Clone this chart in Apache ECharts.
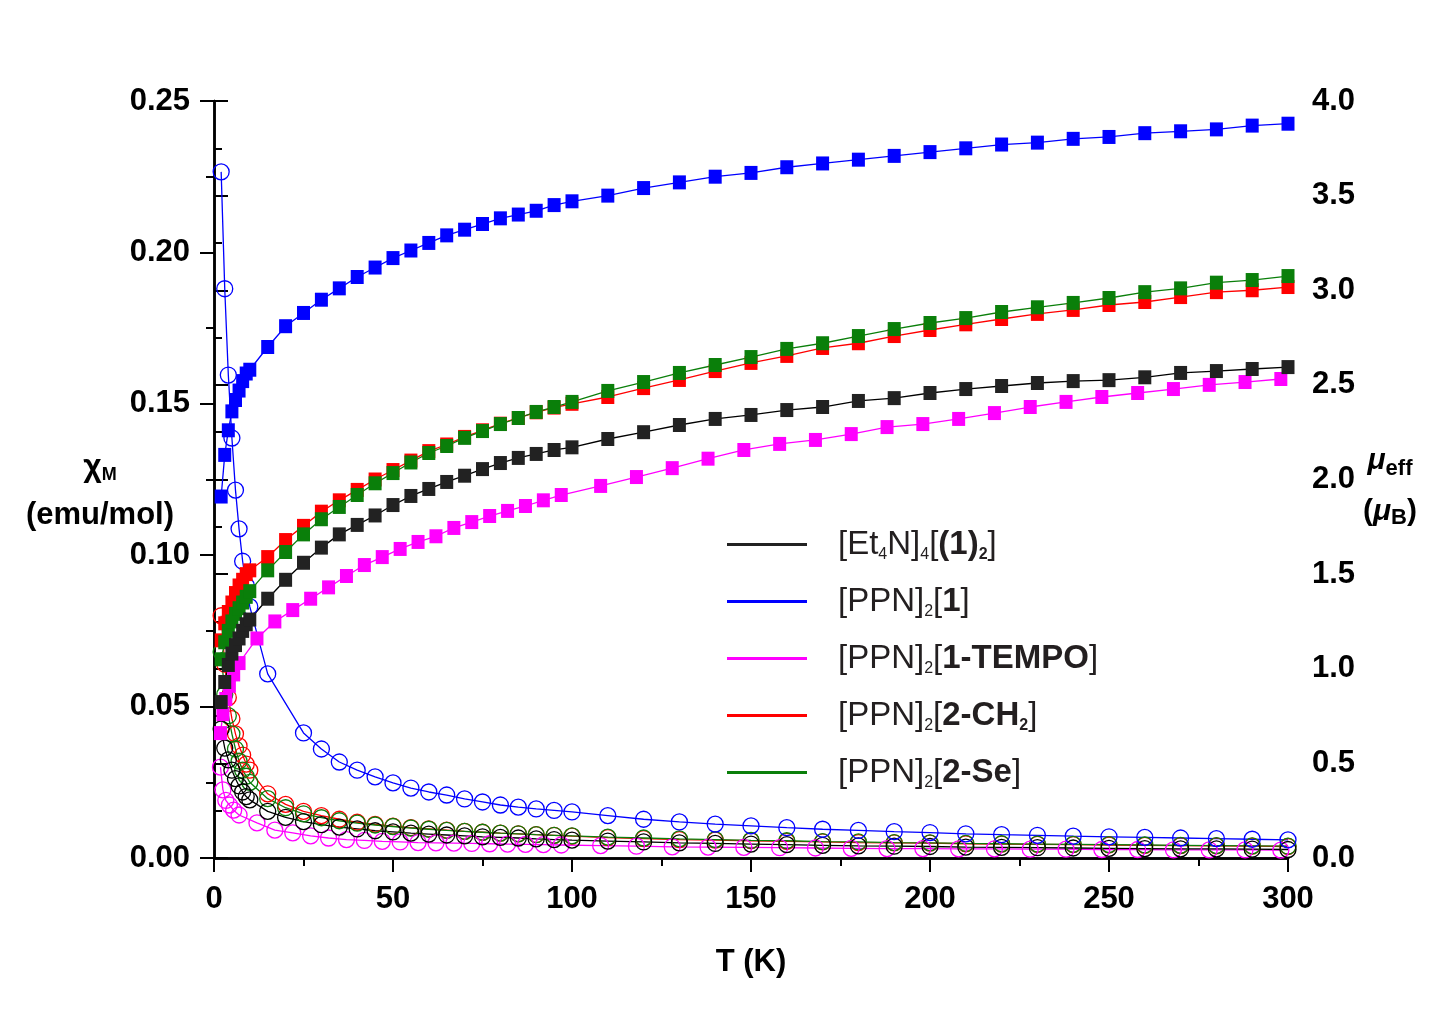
<!DOCTYPE html>
<html><head><meta charset="utf-8">
<script src="https://cdn.jsdelivr.net/npm/echarts@6/dist/echarts.min.js"></script>
<style>html,body{margin:0;padding:0;background:#fff}#c{width:1432px;height:1011px}</style>
</head><body><div id="c"></div>
<script>
// Temperatures (K)
const T = [2,3,4,5,6,7,8,9,10,15,20,25,30,35,40,45,50,55,60,65,70,75,80,85,90,95,100,110,120,130,140,150,160,170,180,190,200,210,220,230,240,250,260,270,280,290,300];
const Tm = [1.8,2.5,3.3,4.3,5.5,7,12,17,22,27,32,37,42,47,52,57,62,67,72,77,82,87,92,97,108,118,128,138,148,158,168,178,188,198,208,218,228,238,248,258,268,278,288,298];

// mu_eff (right axis)
const muEt = [0.824,0.93,1.02,1.08,1.125,1.16,1.20,1.235,1.26,1.37,1.47,1.56,1.64,1.71,1.76,1.81,1.865,1.913,1.95,1.987,2.02,2.055,2.087,2.114,2.135,2.156,2.17,2.214,2.25,2.288,2.32,2.341,2.367,2.383,2.415,2.43,2.457,2.478,2.494,2.51,2.52,2.525,2.54,2.563,2.573,2.584,2.594];
const muPPN1 = [1.91,2.13,2.26,2.36,2.42,2.47,2.52,2.56,2.58,2.70,2.81,2.88,2.95,3.01,3.07,3.12,3.17,3.21,3.25,3.29,3.32,3.35,3.38,3.40,3.42,3.45,3.47,3.50,3.54,3.57,3.60,3.62,3.65,3.67,3.69,3.71,3.73,3.75,3.77,3.78,3.80,3.81,3.83,3.84,3.85,3.87,3.88];
const muTEMPO = [0.66,0.76,0.84,0.91,0.97,1.03,1.16,1.25,1.31,1.37,1.43,1.49,1.548,1.59,1.633,1.67,1.70,1.744,1.775,1.807,1.834,1.86,1.89,1.918,1.966,2.013,2.06,2.11,2.156,2.188,2.209,2.24,2.277,2.293,2.32,2.351,2.383,2.41,2.436,2.457,2.478,2.50,2.515,2.531];
const muCH2 = [1.15,1.24,1.30,1.35,1.40,1.44,1.47,1.50,1.52,1.59,1.68,1.755,1.83,1.89,1.945,2.00,2.05,2.10,2.15,2.185,2.225,2.26,2.295,2.325,2.355,2.38,2.40,2.436,2.483,2.526,2.573,2.616,2.653,2.695,2.72,2.758,2.79,2.82,2.848,2.875,2.896,2.922,2.938,2.964,2.99,3.00,3.017];
const muSe = [1.05,1.14,1.20,1.25,1.29,1.32,1.35,1.38,1.41,1.52,1.617,1.71,1.79,1.855,1.918,1.98,2.034,2.09,2.14,2.177,2.22,2.256,2.293,2.325,2.357,2.383,2.41,2.468,2.515,2.563,2.605,2.647,2.69,2.72,2.758,2.795,2.827,2.853,2.885,2.91,2.933,2.959,2.99,3.01,3.04,3.054,3.075];

// chi_M (left axis)
const chiEt = [0.0426,0.0363,0.0324,0.0290,0.0262,0.0238,0.0218,0.0203,0.0192,0.0154,0.0134,0.0120,0.0110,0.0102,0.0096,0.0090,0.0086,0.0082,0.0079,0.0076,0.0073,0.0070,0.0068,0.0066,0.0063,0.0061,0.0059,0.0056,0.0053,0.0050,0.0048,0.0046,0.0044,0.0042,0.0040,0.0039,0.0038,0.0036,0.0035,0.0034,0.0033,0.0032,0.0031,0.0030,0.0030,0.0029,0.0028];
const chiPPN1 = [0.2266,0.188,0.1595,0.1387,0.1215,0.1087,0.098,0.090,0.083,0.0608,null,0.0413,0.036,0.0317,0.029,0.0268,0.0248,0.0231,0.0218,0.0208,0.0195,0.0185,0.0175,0.0168,0.0162,0.0157,0.0152,0.0140,0.0128,0.0119,0.0112,0.0106,0.0100,0.0095,0.0091,0.0087,0.0084,0.0080,0.0077,0.0075,0.0072,0.0070,0.0068,0.0066,0.0064,0.0062,0.0060];
const chiTEMPO = [0.030,0.0225,0.019,0.0175,0.0158,0.0142,0.0116,0.0092,0.0083,0.0073,0.0066,0.0061,0.0058,0.0055,0.0053,0.0051,0.0050,0.0049,0.0048,0.0047,0.0046,0.0045,0.0044,0.0043,0.0041,0.0039,0.0037,0.0036,0.0035,0.0034,0.0033,0.0032,0.0031,0.0031,0.0030,0.0030,0.0029,0.0029,0.0028,0.0028,0.0027,0.0027,0.0027,0.0026];
const chiCH2 = [0.080,0.064,0.053,0.046,0.041,0.037,0.034,0.031,0.029,0.0212,0.0177,0.0154,0.0140,0.0128,0.0118,0.0111,0.0105,0.0100,0.0096,0.0092,0.0088,0.0085,0.0082,0.0080,0.0077,0.0075,0.0072,0.0067,0.0064,0.0061,0.0059,0.0057,0.0055,0.0053,0.0051,0.0050,0.0049,0.0047,0.0046,0.0045,0.0044,0.0043,0.0042,0.0041,0.0040,0.0039,0.0038];
const chiSe = [0.068,0.054,0.047,0.041,0.036,0.032,0.029,0.027,0.025,0.0196,0.0166,0.0146,0.0133,0.0123,0.0115,0.0109,0.0104,0.0099,0.0095,0.0091,0.0088,0.0085,0.0082,0.0080,0.0077,0.0075,0.0073,0.0069,0.0066,0.0063,0.0061,0.0058,0.0057,0.0054,0.0053,0.0051,0.0050,0.0048,0.0047,0.0046,0.0045,0.0044,0.0043,0.0042,0.0041,0.0040,0.0039];

const colors = {Et4N:'#000000', PPN1:'#0000ff', TEMPO:'#ff00ff', CH2:'#ff0000', Se:'#0a7f0a'};
const legendText = {
  Et4N: '{n|[Et}{s|4}{n|N]}{s|4}{n|[}{b|(1)}{bs|2}{n|]}',
  PPN1: '{n|[PPN]}{s|2}{n|[}{b|1}{n|]}',
  TEMPO: '{n|[PPN]}{s|2}{n|[}{b|1-TEMPO}{n|]}',
  CH2: '{n|[PPN]}{s|2}{n|[}{b|2-CH}{bs|2}{n|]}',
  Se: '{n|[PPN]}{s|2}{n|[}{b|2-Se}{n|]}'
};
const muData = {Et4N:[T,muEt], PPN1:[T,muPPN1], TEMPO:[Tm,muTEMPO], CH2:[T,muCH2], Se:[T,muSe]};
const chiData = {Et4N:[T,chiEt], PPN1:[T,chiPPN1], TEMPO:[Tm,chiTEMPO], CH2:[T,chiCH2], Se:[T,chiSe]};
const drawOrder = ['CH2','Se','TEMPO','Et4N','PPN1'];

const FONT = 'Liberation Sans, Arial, Helvetica, sans-serif';
const pair = (xs, ys) => xs.map((x, i) => [x, ys[i] == null ? '-' : ys[i]]);

const series = [];
drawOrder.forEach(k => {
  const c = colors[k];
  series.push({
    name: k + '_chi', type: 'line', yAxisIndex: 0, xAxisIndex: 0,
    data: pair(chiData[k][0], chiData[k][1]), connectNulls: true,
    symbol: 'circle', symbolSize: 16,
    lineStyle: {color: c, width: 1.3},
    itemStyle: {color: 'rgba(255,255,255,0)', borderColor: c, borderWidth: 1.3},
    emphasis: {disabled: true}, animation: false, silent: true
  });
});
drawOrder.forEach(k => {
  const c = colors[k];
  series.push({
    name: k, type: 'line', yAxisIndex: 1, xAxisIndex: 0,
    data: pair(muData[k][0], muData[k][1]),
    symbol: 'rect', symbolSize: [13, 14],
    lineStyle: {color: c, width: 1.3},
    itemStyle: {color: k === 'Et4N' ? '#222222' : c, borderWidth: 0},
    emphasis: {disabled: true}, animation: false, silent: true
  });
});

const axisLine = {show: true, lineStyle: {color: '#000', width: 2.5}};
const tickLabel = {color: '#000', fontSize: 31, fontWeight: 'bold', fontFamily: FONT};

const option = {
  backgroundColor: '#fff',
  animation: false,
  grid: {left: 214, right: 144, top: 101, bottom: 153, containLabel: false},
  legend: {
    data: ['Et4N','PPN1','TEMPO','CH2','Se'],
    orient: 'vertical', left: 722, top: 523,
    icon: 'rect', itemWidth: 80, itemHeight: 3, itemGap: 22.5,
    selectedMode: false,
    formatter: name => legendText[name],
    textStyle: {
      color: '#231f20', fontFamily: FONT, padding: [0, 0, 0, 26],
      rich: {
        n: {fontSize: 33, lineHeight: 36, fontFamily: FONT, color: '#231f20'},
        b: {fontSize: 33, lineHeight: 36, fontWeight: 'bold', fontFamily: FONT, color: '#231f20'},
        s: {fontSize: 16, lineHeight: 22, verticalAlign: 'bottom', fontFamily: FONT, color: '#231f20'},
        bs: {fontSize: 16, lineHeight: 22, verticalAlign: 'bottom', fontWeight: 'bold', fontFamily: FONT, color: '#231f20'}
      }
    }
  },
  xAxis: [{
    type: 'value', min: 0, max: 300, interval: 50, position: 'bottom',
    axisLine, axisTick: {show: true, length: 14, lineStyle: {color: '#000', width: 2}},
    minorTick: {show: true, splitNumber: 2, length: 8, lineStyle: {color: '#000', width: 2}},
    splitLine: {show: false}, minorSplitLine: {show: false},
    axisLabel: Object.assign({margin: 26}, tickLabel)
  }, {
    type: 'value', min: 0, max: 300, position: 'top',
    axisLine, axisTick: {show: false}, axisLabel: {show: false}, splitLine: {show: false}
  }],
  yAxis: [{
    type: 'value', min: 0, max: 0.25, interval: 0.05, position: 'left',
    axisLine, axisTick: {show: true, length: 14, lineStyle: {color: '#000', width: 2}},
    minorTick: {show: true, splitNumber: 2, length: 8, lineStyle: {color: '#000', width: 2}},
    splitLine: {show: false}, minorSplitLine: {show: false},
    axisLabel: Object.assign({margin: 24, formatter: v => v.toFixed(2)}, tickLabel)
  }, {
    type: 'value', min: 0, max: 4, interval: 0.5, position: 'right',
    axisLine, axisTick: {show: true, length: 14, lineStyle: {color: '#000', width: 2}},
    minorTick: {show: true, splitNumber: 2, length: 8, lineStyle: {color: '#000', width: 2}},
    splitLine: {show: false}, minorSplitLine: {show: false},
    axisLabel: Object.assign({margin: 24, formatter: v => v.toFixed(1)}, tickLabel)
  }],
  graphic: [
    {type: 'text', x: 751, y: 962, style: {text: 'T (K)', font: 'bold 31px ' + FONT, fill: '#000', textAlign: 'center', textVerticalAlign: 'middle'}},
    {type: 'text', x: 100, y: 467, style: {
      text: '{a|χ}{s|M}', textAlign: 'center', textVerticalAlign: 'middle',
      rich: {a: {fontSize: 32, fontWeight: 'bold', fontFamily: FONT, fill: '#000', lineHeight: 34},
             s: {fontSize: 18, fontWeight: 'bold', fontFamily: FONT, fill: '#000', lineHeight: 22, verticalAlign: 'bottom'}}
    }},
    {type: 'text', x: 100, y: 515, style: {text: '(emu/mol)', font: 'bold 31px ' + FONT, fill: '#000', textAlign: 'center', textVerticalAlign: 'middle'}},
    {type: 'text', x: 1390, y: 463, style: {
      text: '{a|μ}{s|eff}', textAlign: 'center', textVerticalAlign: 'middle',
      rich: {a: {fontSize: 30, fontStyle: 'italic', fontWeight: 'bold', fontFamily: FONT, fill: '#000', lineHeight: 34, verticalAlign: 'top'},
             s: {fontSize: 22, fontWeight: 'bold', fontFamily: FONT, fill: '#000', lineHeight: 26, verticalAlign: 'bottom'}}
    }},
    {type: 'text', x: 1390, y: 512, style: {
      text: '{a|(}{m|μ}{s|B}{a|)}', textAlign: 'center', textVerticalAlign: 'middle',
      rich: {a: {fontSize: 30, fontWeight: 'bold', fontFamily: FONT, fill: '#000', lineHeight: 34},
             m: {fontSize: 30, fontStyle: 'italic', fontWeight: 'bold', fontFamily: FONT, fill: '#000', lineHeight: 34},
             s: {fontSize: 22, fontWeight: 'bold', fontFamily: FONT, fill: '#000', lineHeight: 26, verticalAlign: 'bottom'}}
    }}
  ],
  series
};
const chart = echarts.init(document.getElementById('c'), null, {renderer: 'canvas'});
chart.setOption(option);
</script>
</body></html>
